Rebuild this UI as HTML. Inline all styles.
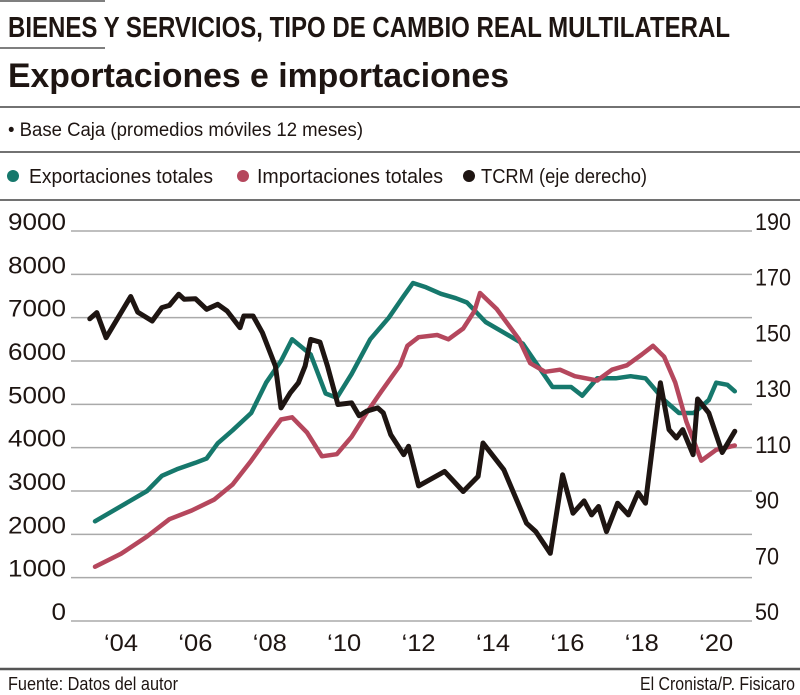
<!DOCTYPE html>
<html><head><meta charset="utf-8"><style>
html,body{margin:0;padding:0;background:#fff;}
svg{display:block;font-family:"Liberation Sans Narrow","Liberation Sans",sans-serif;}
</style></head><body>
<svg width="800" height="695" viewBox="0 0 800 695">
<line x1="0" y1="1" x2="105" y2="1" stroke="#555" stroke-width="1.5"/>
<text x="8" y="37" font-size="29" font-weight="bold" fill="#1e1512" textLength="722" lengthAdjust="spacingAndGlyphs">BIENES Y SERVICIOS, TIPO DE CAMBIO REAL MULTILATERAL</text>
<line x1="0" y1="48" x2="105" y2="48" stroke="#555" stroke-width="1.5"/>
<text x="8" y="87" font-size="34" font-weight="bold" fill="#1e1512" textLength="501" lengthAdjust="spacingAndGlyphs">Exportaciones e importaciones</text>
<line x1="0" y1="107" x2="800" y2="107" stroke="#444" stroke-width="1.5"/>
<text x="8" y="136" font-size="19" fill="#1e1512" textLength="355" lengthAdjust="spacingAndGlyphs">• Base Caja (promedios móviles 12 meses)</text>
<line x1="0" y1="152" x2="800" y2="152" stroke="#444" stroke-width="1.5"/>
<g>
<g><circle cx="13" cy="176" r="6" fill="#16786c"/><text x="29" y="183" font-size="20" fill="#1e1512" textLength="184" lengthAdjust="spacingAndGlyphs">Exportaciones totales</text></g>
<g><circle cx="243" cy="176" r="6" fill="#b5475d"/><text x="257" y="183" font-size="20" fill="#1e1512" textLength="186" lengthAdjust="spacingAndGlyphs">Importaciones totales</text></g>
<g><circle cx="469" cy="176" r="6" fill="#1e1512"/><text x="481" y="183" font-size="20" fill="#1e1512" textLength="166" lengthAdjust="spacingAndGlyphs">TCRM (eje derecho)</text></g>
</g>
<line x1="0" y1="200" x2="800" y2="200" stroke="#444" stroke-width="1.5"/>
<g id="grid"></g>
<g id="laxis"></g>
<g id="raxis"></g>
<g id="xaxis"></g>
<g id="series"></g>
<line x1="0" y1="669" x2="800" y2="669" stroke="#555" stroke-width="2.5"/>
<text x="8" y="690" font-size="18" fill="#1e1512" textLength="170" lengthAdjust="spacingAndGlyphs">Fuente: Datos del autor</text>
<text x="795" y="690" font-size="18" fill="#1e1512" text-anchor="end" textLength="155" lengthAdjust="spacingAndGlyphs">El Cronista/P. Fisicaro</text>
</svg>
<script>
const leftTicks=[0,1000,2000,3000,4000,5000,6000,7000,8000,9000];
const rightTicks=[50,70,90,110,130,150,170,190];
const xTickYears=[2004,2006,2008,2010,2012,2014,2016,2018,2020];
const xTickLabels=["‘04","‘06","‘08","‘10","‘12","‘14","‘16","‘18","‘20"];
const expYears=[2003.3,2004,2004.7,2005.1,2005.5,2006.0,2006.3,2006.6,2007,2007.5,2007.9,2008.3,2008.6,2009.1,2009.5,2009.8,2010.2,2010.7,2011.2,2011.6,2011.85,2012.2,2012.6,2013.0,2013.3,2013.8,2014.3,2014.8,2015.2,2015.6,2016.1,2016.4,2016.8,2017.3,2017.7,2018.1,2018.6,2019.0,2019.4,2019.8,2020.0,2020.3,2020.5];
const expValues=[2300,2650,3000,3350,3500,3650,3750,4100,4400,4800,5500,6000,6500,6150,5250,5150,5700,6500,7000,7500,7800,7700,7550,7450,7350,6900,6650,6400,5900,5400,5400,5200,5600,5600,5650,5600,5100,4800,4800,5100,5500,5450,5300];
const impYears=[2003.3,2004,2004.7,2005.3,2005.9,2006.5,2007,2007.5,2008.0,2008.3,2008.6,2009.0,2009.4,2009.8,2010.2,2010.6,2011.0,2011.5,2011.7,2012.0,2012.5,2012.8,2013.2,2013.5,2013.65,2014.1,2014.7,2015.0,2015.4,2015.8,2016.2,2016.8,2017.2,2017.6,2018.0,2018.3,2018.6,2018.9,2019.2,2019.6,2020.0,2020.5];
const impValues=[1250,1550,1950,2350,2550,2800,3150,3700,4300,4650,4700,4350,3800,3850,4250,4800,5300,5900,6350,6550,6600,6500,6750,7150,7570,7200,6500,5950,5750,5800,5650,5550,5800,5900,6150,6350,6100,5500,4600,3700,3950,4050];
const tcrmYears=[2003.16,2003.35,2003.6,2004.26,2004.45,2004.84,2005.1,2005.3,2005.55,2005.7,2006.0,2006.3,2006.6,2006.85,2007.2,2007.3,2007.55,2007.8,2008.15,2008.3,2008.55,2008.77,2008.95,2009.1,2009.35,2009.55,2009.83,2010.2,2010.4,2010.6,2010.9,2011.05,2011.25,2011.6,2011.73,2012.0,2012.7,2013.2,2013.6,2013.73,2014.29,2014.9,2015.15,2015.54,2015.87,2016.15,2016.45,2016.65,2016.84,2017.05,2017.35,2017.64,2017.9,2018.1,2018.5,2018.73,2018.93,2019.1,2019.38,2019.5,2019.8,2020.16,2020.5];
const tcrmValues=[158.5,160.7,151.7,166.5,160.9,157.7,162.5,163.3,167.3,165.5,165.7,161.9,163.7,161.3,155.3,159.5,159.5,153.5,141.5,126.5,131.9,135.5,141.5,151.1,150.1,141.5,127.7,128.3,123.7,125.3,126.5,124.7,116.9,109.7,112.7,98.5,103.7,96.5,101.9,113.9,104.3,85.1,82.1,74.3,102.5,88.7,93.1,88.1,91.1,82.1,92.3,88.1,96.1,92.3,135.5,118.7,115.7,118.7,109.7,129.7,124.7,110.5,118.1];

const NS='http://www.w3.org/2000/svg';
const X0=71,X1=752,Y0=621,Y9=231;
const xs=y=>121+(y-2004)*37.2;
const yl=v=>Y0-(v/9000)*(Y0-Y9);
const yr=v=>Y0-((v-50)/140)*(Y0-Y9);
function mk(tag,attrs,parent){const e=document.createElementNS(NS,tag);for(const k in attrs)e.setAttribute(k,attrs[k]);parent.appendChild(e);return e;}
const grid=document.getElementById('grid'),la=document.getElementById('laxis'),ra=document.getElementById('raxis'),xa=document.getElementById('xaxis'),ser=document.getElementById('series');
leftTicks.forEach(v=>{
  const l=mk('line',{x1:X0,x2:X1,y1:yl(v),y2:yl(v),stroke:'#aaa','stroke-width':1.5},grid);
  
  
  const s=String(v);
  const t=mk('text',{x:66,y:yl(v)-1,'font-size':24,fill:'#1e1512','text-anchor':'end',textLength:s.length*14.5,lengthAdjust:'spacingAndGlyphs'},la);
  t.textContent=s;
  
  
});
rightTicks.forEach(v=>{
  const s=String(v);
  const t=mk('text',{x:755,y:yr(v)-1,'font-size':24,fill:'#1e1512',textLength:s.length*12,lengthAdjust:'spacingAndGlyphs'},ra);
  t.textContent=s;
  
  
});
xTickYears.forEach((y,i)=>{
  const t=mk('text',{x:xs(y)-17,y:651,'font-size':24,fill:'#1e1512',textLength:34,lengthAdjust:'spacingAndGlyphs'},xa);
  t.textContent=xTickLabels[i];
  
  
});
function line(xsArr,vals,fy,color,w,name){
  const d=xsArr.map((y,i)=>(i?'L':'M')+xs(y).toFixed(1)+' '+fy(vals[i]).toFixed(1)).join(' ');
  const p=mk('path',{d:d,fill:'none',stroke:color,'stroke-width':w,'stroke-linejoin':'round','stroke-linecap':'round'},ser);
  
  
}
line(expYears,expValues,yl,'#16786c',4.5,'exportaciones-line');
line(impYears,impValues,yl,'#b5475d',4.5,'importaciones-line');
line(tcrmYears,tcrmValues,yr,'#1e1512',5,'tcrm-line');
</script>
</body></html>
